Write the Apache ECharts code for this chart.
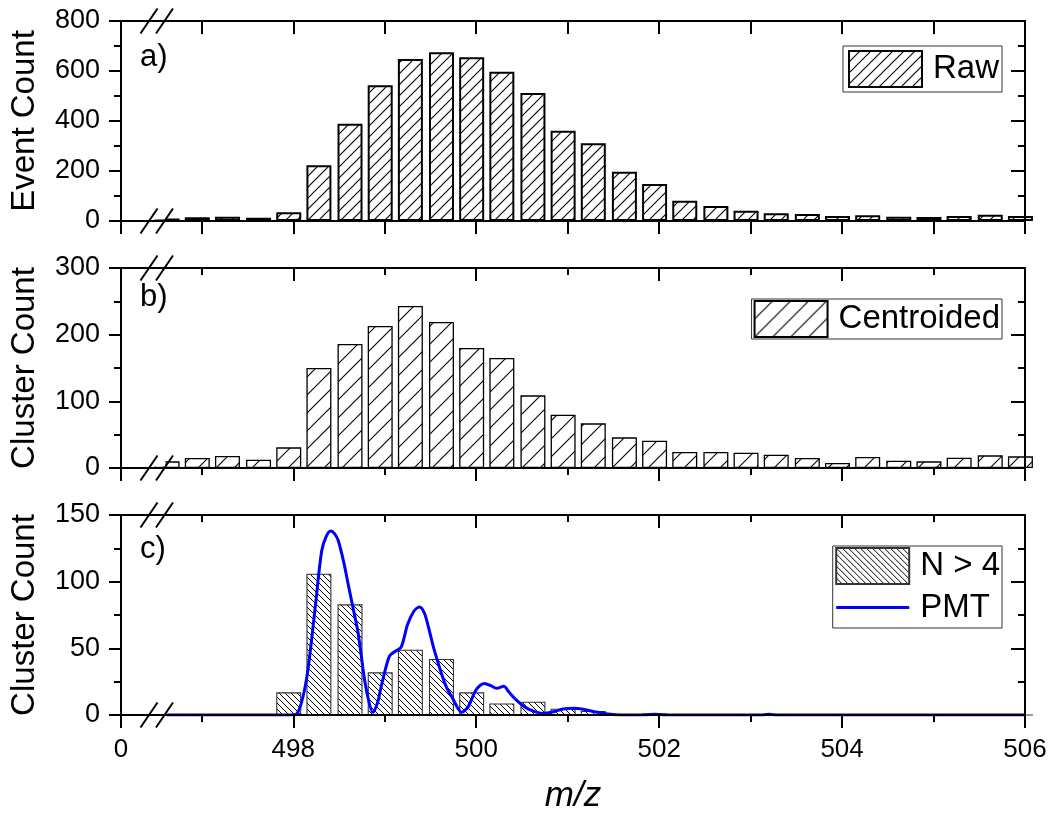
<!DOCTYPE html>
<html>
<head>
<meta charset="utf-8">
<script src="https://cdn.jsdelivr.net/npm/echarts@6/dist/echarts.min.js"></script>
<style>
html,body{margin:0;padding:0;background:#fff;}
#chart{width:1055px;height:824px;}
</style>
</head>
<body>
<div id="chart"></div>
<script>
// ---------------- data ----------------
const binCenters = [496.62, 496.95, 497.28, 497.62, 497.95, 498.28, 498.62, 498.95, 499.28, 499.62,
  499.95, 500.28, 500.62, 500.95, 501.28, 501.62, 501.95, 502.28, 502.62, 502.95,
  503.28, 503.62, 503.95, 504.28, 504.62, 504.95, 505.28, 505.62, 505.95];
const rawCounts = [10, 15, 17, 13, 35, 223, 389, 543, 648, 675,
  655, 597, 512, 361, 311, 197, 148, 81, 60, 41,
  31, 28, 20, 23, 17, 16, 20, 25, 20];
const centroidedCounts = [10, 15, 18, 12.5, 31, 150, 186, 213, 243, 219,
  180, 165, 109, 80, 67, 46, 41, 24, 24, 23,
  20, 15, 7.5, 16.5, 11, 10, 15.5, 19, 17.5];
const nGt4Counts = [0, 0, 0, 0, 17, 106, 83, 32, 49, 42,
  17, 8.7, 10, 4.7, 3, 0, 1.2, 0, 0.5, 0,
  0.8, 0.8, 0, 0.8, 0, 0, 0, 0.8, 0];
const pmtMz = [496.62, 497.5, 497.98, 498.04, 498.10, 498.16, 498.24, 498.31, 498.36, 498.41,
  498.45, 498.49, 498.55, 498.60, 498.66, 498.71, 498.78, 498.83, 498.87, 498.92,
  498.96, 499.05, 499.12, 499.18, 499.25, 499.32, 499.38, 499.43, 499.47, 499.54,
  499.62, 499.68, 499.73, 499.80, 499.84, 499.91, 500.00, 500.09, 500.16, 500.22,
  500.30, 500.36, 500.42, 500.53, 500.64, 500.73, 500.85, 500.95, 501.07, 501.15,
  501.29, 501.44, 501.60, 501.85, 501.95, 502.05, 502.5, 503.1, 503.2, 503.3,
  504.0, 505.0, 506.0];
const pmtSignal = [0, 0, 0, 1, 12, 34, 81, 123, 134, 138,
  136, 131, 115, 98, 78, 61, 26, 9, 2, 9,
  21, 44, 48, 51, 68, 78, 81, 77, 68, 49,
  31, 20, 14, 5, 2, 6, 19, 23.7, 22, 20,
  21.5, 17, 12.5, 6, 2.5, 1.2, 2.5, 4.5, 5, 4.5,
  2.5, 0.7, 0, 0, 0.6, 0, 0, 0, 0.5, 0,
  0, 0, 0];

const xMin = 496.116;            // left end of the broken axis (labelled "0")
const xMax = 506;
const breakEnd = 496.6;          // data hidden behind the axis break up to here
const xLabelValues = [xMin, 498, 500, 502, 504, 506];
const xTickLabels = ['0', '498', '500', '502', '504', '506'];
const xMinorTicks = [497, 499, 501, 503, 505];
const xAllTicks = [xMin, 497, 498, 499, 500, 501, 502, 503, 504, 505, 506];

const yMaxes = [800, 300, 150];
const yIntervals = [200, 100, 50];
const yTitles = ['Event Count', 'Cluster Count', 'Cluster Count'];
const panelLabels = ['a)', 'b)', 'c)'];
const seriesNames = ['Raw', 'Centroided', 'N > 4', 'PMT'];

// ---------------- style ----------------
const FONT = "'Liberation Sans', Arial, Helvetica, sans-serif";
const gridTops = [21, 268, 515];
const gridH = 200;
const labelTops = [42, 282, 534];

function hatch(size, dir, lw) {
  const c = document.createElement('canvas');
  c.width = size; c.height = size;
  const g = c.getContext('2d');
  g.fillStyle = '#fff'; g.fillRect(0, 0, size, size);
  g.strokeStyle = '#000'; g.lineWidth = lw; g.beginPath();
  if (dir === '/') {
    g.moveTo(0, size); g.lineTo(size, 0);
    g.moveTo(-1, 1); g.lineTo(1, -1);
    g.moveTo(size - 1, size + 1); g.lineTo(size + 1, size - 1);
  } else {
    g.moveTo(0, 0); g.lineTo(size, size);
    g.moveTo(-1, size - 1); g.lineTo(1, size + 1);
    g.moveTo(size - 1, -1); g.lineTo(size + 1, 1);
  }
  g.stroke();
  return { image: c, repeat: 'repeat' };
}

const patA = hatch(11, '/', 1.1);
const patB = hatch(18, '/', 1.1);
const patC = hatch(6, '\\', 1);

const axisLineStyle = { color: '#000', width: 2 };

const grids = gridTops.map(t => ({ left: 119, right: 30, top: t, height: gridH }));

const xAxes = [];
const bottomAxisIndex = [];
for (let g = 0; g < 3; g++) {
  const separateMinor = g > 0;
  ['bottom', 'top'].forEach(pos => {
    const ax = {
      type: 'value', gridIndex: g, position: pos, min: xMin, max: xMax, z: 10,
      splitLine: { show: false },
      axisLine: { show: true, onZero: false, lineStyle: axisLineStyle },
      axisTick: { show: true, inside: pos === 'top', length: 13, lineStyle: axisLineStyle,
        customValues: separateMinor ? xLabelValues : xAllTicks },
      axisLabel: { show: false }
    };
    if (g === 2 && pos === 'bottom') {
      ax.axisLabel = {
        show: true, customValues: xLabelValues, fontSize: 26, color: '#000', fontFamily: FONT, margin: 22,
        formatter: v => {
          let best = 0;
          xLabelValues.forEach((lv, i) => { if (Math.abs(lv - v) < Math.abs(xLabelValues[best] - v)) best = i; });
          return xTickLabels[best];
        }
      };
      ax.name = 'm/z';
      ax.nameLocation = 'middle';
      ax.nameGap = 64;
      ax.nameTextStyle = { fontSize: 35, fontStyle: 'italic', fontFamily: FONT, color: '#000' };
    }
    if (pos === 'bottom') bottomAxisIndex[g] = xAxes.length;
    xAxes.push(ax);
    if (separateMinor) {
      xAxes.push({
        type: 'value', gridIndex: g, position: pos, min: xMin, max: xMax, z: 10,
        splitLine: { show: false },
        axisLine: { show: false, onZero: false },
        axisTick: { show: true, inside: pos === 'top', length: 7, lineStyle: axisLineStyle, customValues: xMinorTicks },
        axisLabel: { show: false }
      });
    }
  });
}

const yAxes = [];
const leftAxisIndex = [];
for (let g = 0; g < 3; g++) {
  leftAxisIndex[g] = yAxes.length;
  yAxes.push({
    type: 'value', gridIndex: g, position: 'left', min: 0, max: yMaxes[g], interval: yIntervals[g], z: 10,
    splitLine: { show: false },
    axisLine: { show: true, onZero: false, lineStyle: axisLineStyle },
    axisTick: { show: true, inside: false, length: 12, lineStyle: axisLineStyle },
    minorTick: { show: true, splitNumber: 2, length: 7, lineStyle: axisLineStyle },
    axisLabel: { fontSize: 27, color: '#000', fontFamily: FONT, margin: 21 },
    name: yTitles[g], nameLocation: 'middle', nameGap: 80,
    nameTextStyle: { fontSize: 33, color: '#000', fontFamily: FONT }
  });
  yAxes.push({
    type: 'value', gridIndex: g, position: 'right', min: 0, max: yMaxes[g], interval: yIntervals[g], z: 10,
    splitLine: { show: false },
    axisLine: { show: true, onZero: false, lineStyle: axisLineStyle },
    axisTick: { show: true, inside: true, length: 14, lineStyle: axisLineStyle },
    minorTick: { show: true, splitNumber: 2, length: 7, lineStyle: axisLineStyle },
    axisLabel: { show: false }
  });
}

const zip = (xs, ys) => xs.map((x, i) => [x, ys[i]]);

const series = [
  { type: 'bar', name: seriesNames[0], xAxisIndex: bottomAxisIndex[0], yAxisIndex: leftAxisIndex[0],
    data: zip(binCenters, rawCounts), barWidth: 25, clip: true,
    itemStyle: { color: patA, borderColor: '#000', borderWidth: 2 } },
  { type: 'bar', name: seriesNames[1], xAxisIndex: bottomAxisIndex[1], yAxisIndex: leftAxisIndex[1],
    data: zip(binCenters, centroidedCounts), barWidth: 25, clip: true,
    itemStyle: { color: patB, borderColor: '#000', borderWidth: 1.3 } },
  { type: 'bar', name: seriesNames[2], xAxisIndex: bottomAxisIndex[2], yAxisIndex: leftAxisIndex[2],
    data: zip(binCenters, nGt4Counts), barWidth: 25, clip: true,
    itemStyle: { color: patC, borderColor: '#333', borderWidth: 1.1 } },
  { type: 'line', name: seriesNames[3], xAxisIndex: bottomAxisIndex[2], yAxisIndex: leftAxisIndex[2],
    data: zip(pmtMz, pmtSignal), smooth: 0.3, symbol: 'none', clip: true, z: 5,
    lineStyle: { color: '#0000ff', width: 3 }, itemStyle: { color: '#0000ff' } }
];

const legendBase = {
  orient: 'vertical', right: 53, itemWidth: 73, itemHeight: 36, itemGap: 6, z: 20,
  borderColor: '#333', borderWidth: 1, backgroundColor: '#fff', selectedMode: false,
  textStyle: { fontSize: 33, color: '#000', fontFamily: FONT, padding: [0, 0, 0, 6] }
};
const legends = [
  Object.assign({}, legendBase, { top: 46, padding: [4, 3, 4, 5], data: [{ name: seriesNames[0], icon: 'rect' }] }),
  Object.assign({}, legendBase, { top: 299, padding: [1, 2, 1, 2], data: [{ name: seriesNames[1], icon: 'rect' }] }),
  Object.assign({}, legendBase, { top: 546, padding: [1, 2, 4, 2],
    data: [{ name: seriesNames[2], icon: 'rect' },
           { name: seriesNames[3], itemStyle: { opacity: 0 }, lineStyle: { width: 3, color: '#0000ff' } }] })
];

const chart = echarts.init(document.getElementById('chart'), null, { renderer: 'canvas' });
chart.setOption({
  animation: false,
  backgroundColor: '#fff',
  grid: grids,
  xAxis: xAxes,
  yAxis: yAxes,
  legend: legends,
  series: series
});

// axis-break marks, mask and panel labels
const gfx = [];
for (let g = 0; g < 3; g++) {
  const tl = chart.convertToPixel({ gridIndex: g }, [xMin, yMaxes[g]]);
  const br = chart.convertToPixel({ gridIndex: g }, [xMax, 0]);
  const mr = chart.convertToPixel({ gridIndex: g }, [breakEnd, 0])[0];
  gfx.push({ type: 'rect', z: 50, silent: true,
    shape: { x: tl[0] + 1.5, y: tl[1] + 1.5, width: mr - tl[0] - 1.5, height: br[1] - tl[1] - 3 },
    style: { fill: '#fff' } });
  [tl[1], br[1]].forEach(yy => {
    [tl[0] + 28, tl[0] + 43.5].forEach(cx => {
      gfx.push({ type: 'line', z: 60, silent: true,
        shape: { x1: cx - 8.5, y1: yy + 12.5, x2: cx + 8.5, y2: yy - 12.5 },
        style: { stroke: '#000', lineWidth: 2 } });
    });
  });
  gfx.push({ type: 'text', z: 60, silent: true, x: tl[0] + 19, y: labelTops[g],
    style: { text: panelLabels[g], fontSize: 31, fontFamily: FONT, fill: '#000', verticalAlign: 'top' } });
}
chart.setOption({ graphic: gfx });
</script>
</body>
</html>
